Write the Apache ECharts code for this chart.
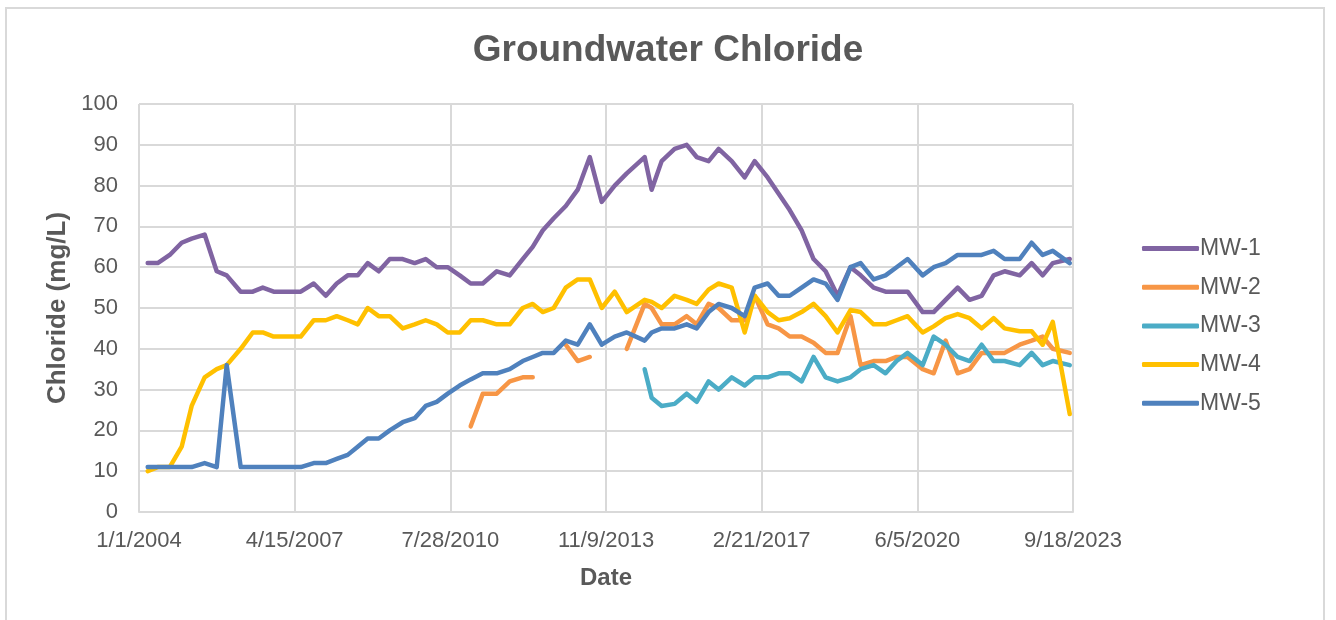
<!DOCTYPE html>
<html>
<head>
<meta charset="utf-8">
<title>Groundwater Chloride</title>
<script src="https://cdn.jsdelivr.net/npm/echarts@6/dist/echarts.min.js"></script>
<style>
  html, body { margin: 0; padding: 0; background: #fff; }
  #frame {
    position: absolute; left: 5px; top: 7px; width: 1320px; height: 700px;
    border: 2px solid #d9d9d9; box-sizing: border-box;
  }
  #chart { position: absolute; left: 0; top: 0; width: 1336px; height: 620px; }
</style>
</head>
<body>
<div id="frame"></div>
<div id="chart"></div>
<script>
// sampling dates shared by all wells
const dates = [
  '2004-03-08', '2004-05-24', '2004-08-25', '2004-11-25', '2005-02-10', '2005-05-21', '2005-08-22', '2005-11-07',
  '2006-02-23', '2006-05-27', '2006-08-12', '2006-11-04', '2007-02-13', '2007-06-01', '2007-09-09', '2007-12-11',
  '2008-03-04', '2008-05-28', '2008-08-13', '2008-10-29', '2009-01-22', '2009-04-17', '2009-07-26', '2009-10-26',
  '2010-01-19', '2010-04-14', '2010-07-08', '2010-10-08', '2011-01-01', '2011-04-04', '2011-07-21', '2011-10-29',
  '2012-02-06', '2012-04-23', '2012-07-09', '2012-10-02', '2013-01-03', '2013-04-05', '2013-07-07', '2013-10-07',
  '2014-01-15', '2014-04-18', '2014-09-03', '2014-10-27', '2015-01-12', '2015-04-22', '2015-07-24', '2015-10-09',
  '2016-01-09', '2016-03-26', '2016-07-05', '2016-10-13', '2016-12-29', '2017-04-08', '2017-07-02', '2017-09-25',
  '2017-12-26', '2018-03-28', '2018-06-29', '2018-09-29', '2019-01-07', '2019-03-26', '2019-07-04', '2019-10-04',
  '2019-12-28', '2020-03-22', '2020-07-16', '2020-10-09', '2021-01-09', '2021-04-12', '2021-07-13', '2021-10-14',
  '2022-01-14', '2022-04-09', '2022-08-03', '2022-11-03', '2023-01-27', '2023-04-15', '2023-08-24'
]

const mw1 = [
  61, 61, 63, 66, 67, 68, 59, 58, 54, 54,
  55, 54, 54, 54, 56, 53, 56, 58, 58, 61,
  59, 62, 62, 61, 62, 60, 60, 58, 56, 56,
  59, 58, 62, 65, 69, 72, 75, 79, 87, 76,
  80, 83, 87, 79, 86, 89, 90, 87, 86, 89,
  86, 82, 86, 82, 78, 74, 69, 62, 59, 53,
  60, 58, 55, 54, 54, 54, 49, 49, 52, 55,
  52, 53, 58, 59, 58, 61, 58, 61, 62
]

const mw2 = [
  null, null, null, null, null, null, null, null, null, null,
  null, null, null, null, null, null, null, null, null, null,
  null, null, null, null, null, null, null, null, 21, 29,
  29, 32, 33, 33, null, null, 41, 37, 38, null,
  null, 40, 51, 50, 46, 46, 48, 46, 51, 50,
  47, 47, 53, 46, 45, 43, 43, 41.5, 39, 39,
  48, 36, 37, 37, 38, 38, 35, 34, 42, 34,
  35, 39, 39, 39, 41, 42, 43, 40, 39
]

const mw3 = [
  null, null, null, null, null, null, null, null, null, null,
  null, null, null, null, null, null, null, null, null, null,
  null, null, null, null, null, null, null, null, null, null,
  null, null, null, null, null, null, null, null, null, null,
  null, null, 35, 28, 26, 26.5, 29, 27, 32, 30,
  33, 31, 33, 33, 34, 34, 32, 38, 33, 32,
  33, 35, 36, 34, 37, 39, 36, 43, 41, 38,
  37, 41, 37, 37, 36, 39, 36, 37, 36
]

const mw4 = [
  10, 11, 11, 16, 26, 33, 35, 36, 40, 44,
  44, 43, 43, 43, 47, 47, 48, 47, 46, 50,
  48, 48, 45, 46, 47, 46, 44, 44, 47, 47,
  46, 46, 50, 51, 49, 50, 55, 57, 57, 50,
  54, 49, 52, 51.5, 50, 53, 52, 51, 54.5, 56,
  55, 44, 53, 49, 47, 47.5, 49, 51, 48, 44,
  49.5, 49, 46, 46, 47, 48, 44, 45.5, 47.5, 48.5,
  47.5, 45, 47.5, 45, 44.3, 44.3, 41, 46.6, 24
]

const mw5 = [
  11, 11, 11, 11, 11, 12, 11, 36, 11, 11,
  11, 11, 11, 11, 12, 12, 13, 14, 16, 18,
  18, 20, 22, 23, 26, 27, 29, 31, 32.5, 34,
  34, 35, 37, 38, 39, 39, 42, 41, 46, 41,
  43, 44, 42, 44, 45, 45, 46, 45, 49, 51,
  50, 48, 55, 56, 53, 53, 55, 57, 56, 52,
  60, 61, 57, 58, 60, 62, 58, 60, 61, 63,
  63, 63, 64, 62, 62, 66, 63, 64, 61
]

const seriesNames = ['MW-1', 'MW-2', 'MW-3', 'MW-4', 'MW-5']
const seriesColors = ['#8064A2', '#F79646', '#4BACC6', '#FFC000', '#4F81BD']

// x axis runs in days from 1/1/2004, one tick every 1200 days
const DAY = 86400000
const START = Date.UTC(2004, 0, 1)
const toDay = s => {
  const p = s.split('-').map(Number)
  return Math.round((Date.UTC(p[0], p[1] - 1, p[2]) - START) / DAY)
}
const dayLabel = v => {
  const d = new Date(START + v * DAY)
  return (d.getUTCMonth() + 1) + '/' + d.getUTCDate() + '/' + d.getUTCFullYear()
}

const textColor = '#595959'
const gridColor = '#d9d9d9'
const font = '"Liberation Sans", Arial, sans-serif'

const chart = echarts.init(document.getElementById('chart'))

const option = {
  animation: false,
  backgroundColor: 'transparent',
  title: {
    text: 'Groundwater Chloride',
    left: 'center',
    top: 27,
    textStyle: { fontFamily: font, fontSize: 37, fontWeight: 'bold', color: textColor }
  },
  legend: {
    orient: 'vertical',
    left: 1137,
    top: 232,
    itemWidth: 57,
    itemHeight: 5,
    itemGap: 15.7,
    icon: 'roundRect',
    data: seriesNames,
    textStyle: { fontFamily: font, fontSize: 23, color: textColor, padding: [0, 0, 0, -4] }
  },
  grid: {
    left: 139,
    right: 263,
    top: 104,
    bottom: 108,
    containLabel: false
  },
  xAxis: {
    type: 'value',
    min: 0,
    max: 7200,
    interval: 1200,
    name: 'Date',
    nameLocation: 'middle',
    nameGap: 54,
    nameTextStyle: { fontFamily: font, fontSize: 24, fontWeight: 'bold', color: textColor },
    axisLine: { show: true, lineStyle: { color: gridColor, width: 2 } },
    axisTick: { show: false },
    splitLine: { show: true, lineStyle: { color: gridColor, width: 2 } },
    axisLabel: {
      formatter: dayLabel,
      fontFamily: font, fontSize: 22, color: textColor, margin: 18,
      showMinLabel: true, showMaxLabel: true
    }
  },
  yAxis: {
    type: 'value',
    min: 0,
    max: 100,
    interval: 10,
    name: 'Chloride (mg/L)',
    nameLocation: 'middle',
    nameRotate: 90,
    nameGap: 68,
    nameTextStyle: { fontFamily: font, fontSize: 26, fontWeight: 'bold', color: textColor },
    axisLine: { show: false },
    axisTick: { show: false },
    splitLine: { show: true, lineStyle: { color: gridColor, width: 2 } },
    axisLabel: { fontFamily: font, fontSize: 22, color: textColor, margin: 21 }
  },
  series: [mw1, mw2, mw3, mw4, mw5].map((vals, k) => ({
    name: seriesNames[k],
    type: 'line',
    data: dates.map((d, i) => [toDay(d), vals[i] === null ? '-' : vals[i]]),
    symbol: 'none',
    connectNulls: false,
    color: seriesColors[k],
    lineStyle: { width: 4.5, color: seriesColors[k], cap: 'round', join: 'round' }
  }))
}

chart.setOption(option)
</script>
</body>
</html>
